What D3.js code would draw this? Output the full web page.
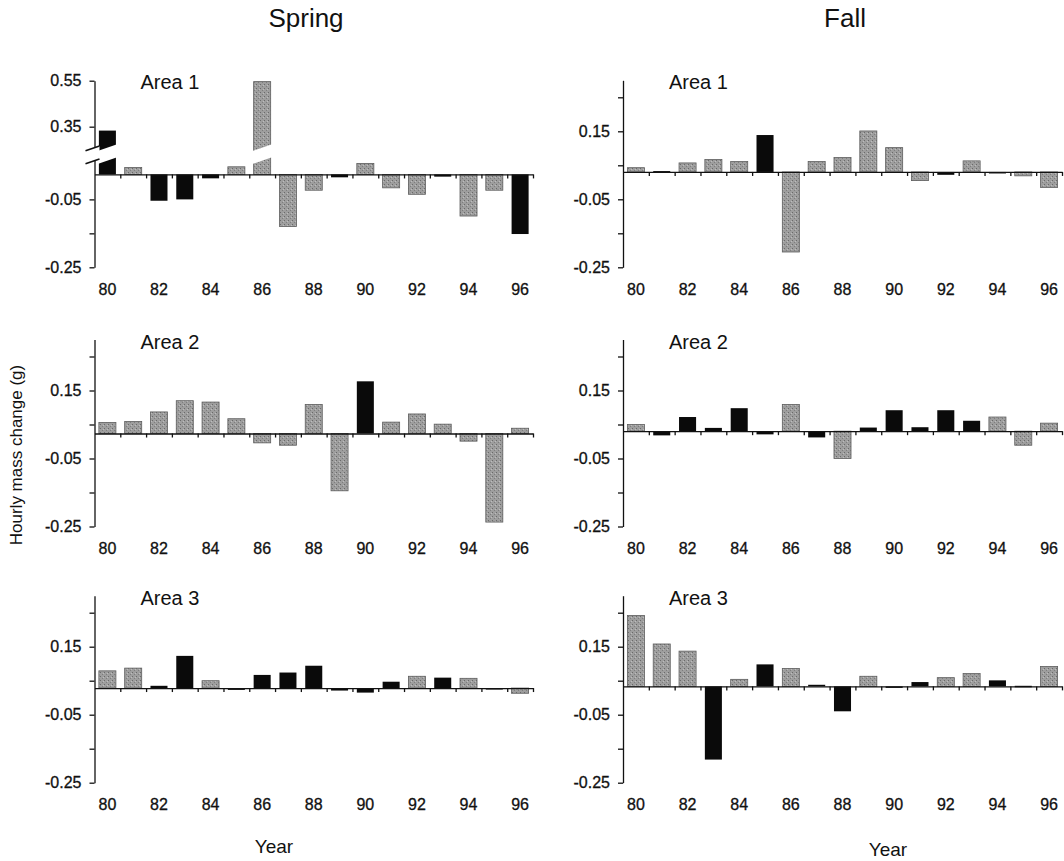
<!DOCTYPE html>
<html lang="en">
<head>
<meta charset="UTF-8">
<title>Hourly mass change by year</title>
<script src="https://d3js.org/d3.v7.min.js"></script>
<style>
  body { margin: 0; background: #fff; }
  svg { display: block; }
  text { font-family: "Liberation Sans", Arial, sans-serif; fill: #111; }
  .axis path, .axis line { stroke: #111; stroke-width: 1.3; }
  .axis text { font-size: 16px; font-family: "Liberation Sans", Arial, sans-serif; fill: #111; stroke: #111; stroke-width: 0.3px; }
</style>
</head>
<body>
<svg width="1064" height="861"></svg>
<script>
// years on the x axis, and the ones that get a label
const years = [80, 81, 82, 83, 84, 85, 86, 87, 88, 89, 90, 91, 92, 93, 94, 95, 96];
const yearLabels = [80, 82, 84, 86, 88, 90, 92, 94, 96];

// values, in units of the y axis labels
const spring1 = [0.333, 0.044, -0.054, -0.050, 0.012, 0.046, 0.546, -0.130, -0.023, 0.015, 0.056, -0.016, -0.035, 0.017, -0.099, -0.023, -0.152];
const fall1   = [0.043, 0.033, 0.057, 0.067, 0.061, 0.139, -0.205, 0.061, 0.073, 0.151, 0.102, 0.005, 0.022, 0.063, 0.026, 0.019, -0.015];
const spring2 = [0.056, 0.059, 0.087, 0.120, 0.116, 0.067, -0.004, -0.011, 0.109, -0.145, 0.177, 0.057, 0.081, 0.051, 0.001, -0.237, 0.039];
const fall2   = [0.050, 0.018, 0.072, 0.040, 0.098, 0.021, 0.109, 0.012, -0.050, 0.041, 0.092, 0.042, 0.092, 0.061, 0.072, -0.011, 0.054];
const spring3 = [0.079, 0.087, 0.035, 0.123, 0.050, 0.023, 0.067, 0.074, 0.094, 0.021, 0.015, 0.047, 0.063, 0.059, 0.057, 0.025, 0.013];
const fall3   = [0.242, 0.158, 0.137, -0.182, 0.054, 0.098, 0.086, 0.038, -0.040, 0.063, 0.029, 0.046, 0.059, 0.071, 0.051, 0.035, 0.092];

// bar shading per year: k = black, g = grey
const spring1Shade = "kgkkkggggkgggkggk";
const fall1Shade   = "gkgggkggggggkgkgg";
const spring2Shade = "ggggggggggkgggggg";
const fall2Shade   = "gkkkkkgkgkkkkkggg";
const spring3Shade = "ggkkgkkkkkkkgkgkg";
const fall3Shade   = "gggkgkgkkgkkggkkg";

// where the zero line sits on each panel's axis
const zeroLines = [0.0235, 0.0304, 0.0235, 0.0304, 0.0284, 0.0333];

const yTicks = [-0.25, -0.15, -0.05, 0.05, 0.15, 0.25];
const yTickLabels = [-0.25, -0.05, 0.15];
const brokenTicks = [-0.25, -0.15, -0.05, 0.35, 0.55];
const brokenTickLabels = [-0.25, -0.05, 0.35, 0.55];
const gapLo = 0.066, gapHi = 0.256;   // axis break on Spring / Area 1

const colX = [94.5, 623], colEnd = [533, 1062];
const rowBottom = [267.3, 526.5, 782.7];

const panels = [
  { col: 0, row: 0, area: "Area 1", values: spring1, shade: spring1Shade, zero: zeroLines[0], broken: true },
  { col: 1, row: 0, area: "Area 1", values: fall1,   shade: fall1Shade,   zero: zeroLines[1] },
  { col: 0, row: 1, area: "Area 2", values: spring2, shade: spring2Shade, zero: zeroLines[2] },
  { col: 1, row: 1, area: "Area 2", values: fall2,   shade: fall2Shade,   zero: zeroLines[3] },
  { col: 0, row: 2, area: "Area 3", values: spring3, shade: spring3Shade, zero: zeroLines[4] },
  { col: 1, row: 2, area: "Area 3", values: fall3,   shade: fall3Shade,   zero: zeroLines[5] }
];

const svg = d3.select("svg");

// stippled grey fill
const pat = svg.append("defs").append("pattern")
    .attr("id", "stipple")
    .attr("width", 4).attr("height", 4)
    .attr("patternUnits", "userSpaceOnUse");
pat.append("rect").attr("width", 4).attr("height", 4).attr("fill", "#9e9e9e");
pat.append("rect").attr("x", 0).attr("y", 0).attr("width", 1).attr("height", 1).attr("fill", "#6a6a6a");
pat.append("rect").attr("x", 2).attr("y", 2).attr("width", 1).attr("height", 1).attr("fill", "#7e7e7e");
pat.append("rect").attr("x", 3).attr("y", 1).attr("width", 1).attr("height", 1).attr("fill", "#bdbdbd");

const fmt = d => d.toFixed(2);

panels.forEach(p => {
  const x0 = colX[p.col], x1 = colEnd[p.col], yb = rowBottom[p.row];
  const y = p.broken
    ? d3.scaleLinear().domain([-0.25, gapLo, gapHi, 0.55]).range([yb, yb - 107.3, yb - 119, yb - 186.6])
    : d3.scaleLinear().domain([-0.25, 0.30]).range([yb, yb - 187]);
  const x = d3.scaleBand().domain(years).range([x0, x1]).paddingInner(0.34).paddingOuter(0.17);
  const slot = d3.scaleLinear().domain([0, years.length]).range([x0, x1]);
  const y0 = y(p.zero);
  const g = svg.append("g");

  // bars
  g.selectAll("rect.bar")
    .data(p.values)
    .join("rect")
    .attr("class", "bar")
    .attr("x", (d, i) => x(years[i]))
    .attr("width", x.bandwidth())
    .attr("y", d => Math.min(y(d), y0))
    .attr("height", d => Math.max(1.5, Math.abs(y(d) - y0)))
    .attr("fill", (d, i) => p.shade[i] === "k" ? "#0a0a0a" : "url(#stipple)")
    .attr("stroke", (d, i) => p.shade[i] === "k" ? "none" : "#5e5e5e")
    .attr("stroke-width", 0.8);

  // zero line with ticks between the years
  g.append("g")
    .attr("class", "axis")
    .attr("transform", `translate(0,${y0})`)
    .call(d3.axisBottom(slot).tickValues(d3.range(1, years.length + 1)).tickFormat("").tickSize(4).tickSizeOuter(0));

  // year labels under the panel
  g.append("g")
    .attr("class", "axis")
    .attr("transform", `translate(0,${yb + 13})`)
    .call(d3.axisBottom(x).tickValues(yearLabels).tickSize(0).tickPadding(3))
    .call(a => a.select(".domain").remove());

  // y axis
  const ticks = p.broken ? brokenTicks : yTicks;
  const labels = p.broken ? brokenTickLabels : yTickLabels;
  g.append("g")
    .attr("class", "axis")
    .attr("transform", `translate(${x0},0)`)
    .call(d3.axisLeft(y).tickValues(ticks).tickSize(5).tickSizeOuter(0).tickPadding(8)
      .tickFormat(d => labels.includes(d) ? fmt(d) : ""));

  if (p.broken) {
    const yc = (y(gapLo) + y(gapHi)) / 2, s = 0.35, hh = 6.5;
    const band = (l, r, c) => [
      [l, yc + s * (c - l) - hh], [r, yc - s * (r - c) - hh],
      [r, yc - s * (r - c) + hh], [l, yc + s * (c - l) + hh]
    ];
    p.values.forEach((d, i) => {
      if (d <= gapHi) return;
      const l = x(years[i]) - 2, r = x(years[i]) + x.bandwidth() + 2;
      g.append("polygon")
        .attr("points", band(l, r, (l + r) / 2).join(" "))
        .attr("fill", "#fff");
    });
    const ab = band(x0 - 9, x0 + 5, x0);
    g.append("polygon").attr("points", ab.join(" ")).attr("fill", "#fff");
    g.append("line").attr("x1", ab[0][0]).attr("y1", ab[0][1]).attr("x2", ab[1][0]).attr("y2", ab[1][1])
      .attr("stroke", "#111").attr("stroke-width", 1.6);
    g.append("line").attr("x1", ab[3][0]).attr("y1", ab[3][1]).attr("x2", ab[2][0]).attr("y2", ab[2][1])
      .attr("stroke", "#111").attr("stroke-width", 1.6);
  }

  // area label
  g.append("text")
    .attr("x", x0 + 46)
    .attr("y", yb - 178)
    .attr("font-size", 20)
    .text(p.area);
});

// column titles
svg.append("text").attr("x", 306).attr("y", 27).attr("text-anchor", "middle").attr("font-size", 26).text("Spring");
svg.append("text").attr("x", 845).attr("y", 27).attr("text-anchor", "middle").attr("font-size", 26).text("Fall");

// axis titles
svg.append("text").attr("x", 274).attr("y", 853).attr("text-anchor", "middle").attr("font-size", 19).text("Year");
svg.append("text").attr("x", 888).attr("y", 856).attr("text-anchor", "middle").attr("font-size", 19).text("Year");
svg.append("text")
  .attr("transform", "translate(22,455) rotate(-90)")
  .attr("text-anchor", "middle")
  .attr("font-size", 17)
  .text("Hourly mass change (g)");
</script>
</body>
</html>
